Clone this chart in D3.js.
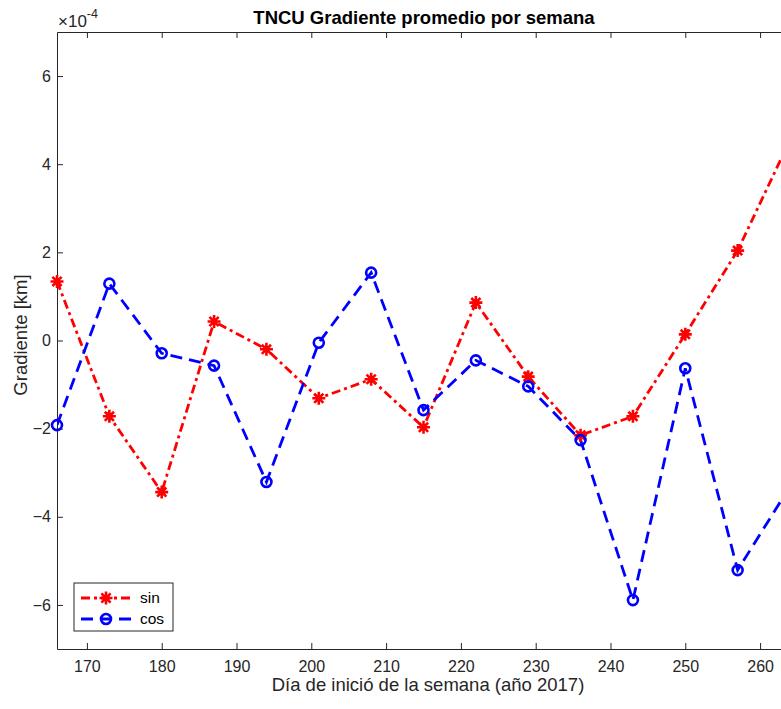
<!DOCTYPE html>
<html>
<head>
<meta charset="utf-8">
<script src="https://cdn.jsdelivr.net/npm/d3@7"></script>
<style>
  html, body { margin: 0; padding: 0; background: #fff; }
  svg { display: block; font-family: "Liberation Sans", Arial, Helvetica, sans-serif; }
</style>
</head>
<body>
<svg id="chart" width="781" height="709"></svg>
<script>
// Weekly start day (2017) and the mean gradient per week, in units of 1e-4 km
const days = [166, 173, 180, 187, 194, 201, 208, 215, 222, 229, 236, 243, 250, 257, 264];
const sinValues = [1.34, -1.72, -3.44, 0.43, -0.20, -1.31, -0.88, -1.97, 0.86, -0.82, -2.15, -1.72, 0.14, 2.04, 4.55];
const cosValues = [-1.92, 1.29, -0.29, -0.57, -3.21, -0.05, 1.54, -1.58, -0.45, -1.04, -2.26, -5.89, -0.63, -5.21, -3.31];
const xTicks = [170, 180, 190, 200, 210, 220, 230, 240, 250, 260];
const yTicks = [-6, -4, -2, 0, 2, 4, 6];

const svg = d3.select("#chart");
const axisColor = "#262626";

// Axes box (extends slightly beyond the window on the right)
const boxLeft = 57, boxTop = 32, boxRight = 790, boxBottom = 649;

const x = d3.scaleLinear().domain([166, 264]).range([boxLeft, boxRight]);
const y = d3.scaleLinear().domain([-7, 7]).range([boxBottom, boxTop]);

svg.append("defs").append("clipPath").attr("id", "plotClip")
  .append("rect").attr("x", boxLeft).attr("y", boxTop)
  .attr("width", boxRight - boxLeft).attr("height", boxBottom - boxTop);

// Axes
function styleAxis(g) {
  g.selectAll("path.domain").attr("stroke", axisColor).attr("stroke-width", 1);
  g.selectAll(".tick line").attr("stroke", axisColor).attr("stroke-width", 1);
  g.selectAll(".tick text").attr("fill", axisColor)
    .attr("font-family", "Liberation Sans, Arial, sans-serif");
}

svg.append("g").attr("transform", `translate(0,${boxBottom})`)
  .call(d3.axisBottom(x).tickValues(xTicks).tickSizeInner(-6).tickSizeOuter(0).tickPadding(12))
  .call(styleAxis)
  .selectAll(".tick text").attr("font-size", 16);

svg.append("g").attr("transform", `translate(0,${boxTop})`)
  .call(d3.axisTop(x).tickValues(xTicks).tickSizeInner(-6).tickSizeOuter(0).tickFormat(""))
  .call(styleAxis);

svg.append("g").attr("transform", `translate(${boxLeft},0)`)
  .call(d3.axisLeft(y).tickValues(yTicks).tickSizeInner(-6).tickSizeOuter(0).tickPadding(6))
  .call(styleAxis)
  .selectAll(".tick text").attr("font-size", 16);

// Exponent marker
const expo = svg.append("text").attr("x", 58).attr("y", 27)
  .attr("font-size", 17).attr("fill", axisColor);
expo.append("tspan").text("\u00d710");
expo.append("tspan").attr("dy", -9).attr("font-size", 12.5).text("-4");

// Title and axis labels
svg.append("text").attr("x", 424).attr("y", 24)
  .attr("text-anchor", "middle").attr("font-size", 18.5).attr("font-weight", "bold")
  .attr("fill", "#000").text("TNCU Gradiente promedio por semana");

svg.append("text").attr("x", 428).attr("y", 691)
  .attr("text-anchor", "middle").attr("font-size", 18.5).attr("fill", axisColor)
  .text("Día de inició de la semana (año 2017)");

svg.append("text").attr("transform", "translate(27,335) rotate(-90)")
  .attr("text-anchor", "middle").attr("font-size", 18.5).attr("fill", axisColor)
  .text("Gradiente [km]");

// Series
const series = [
  { name: "sin", values: sinValues, color: "#ff0000", dash: "9,4,3,4", marker: "star" },
  { name: "cos", values: cosValues, color: "#0000ff", dash: "12,7", marker: "circle" }
];

const starPath = r => {
  const d = r * Math.SQRT1_2;
  return `M0,${-r}V${r}M${-r},0H${r}M${-d},${-d}L${d},${d}M${-d},${d}L${d},${-d}`;
};

function drawMarker(g, type, color) {
  if (type === "star") {
    g.append("path").attr("d", starPath(6.5)).attr("stroke", color)
      .attr("stroke-width", 2.6).attr("fill", "none");
  } else {
    g.append("circle").attr("r", 5).attr("stroke", color)
      .attr("stroke-width", 2.6).attr("fill", "none");
  }
}

const lines = svg.append("g").attr("clip-path", "url(#plotClip)");
const markers = svg.append("g");

series.forEach(s => {
  const pts = days.map((d, i) => [d, s.values[i]]);
  const line = d3.line().x(p => x(p[0])).y(p => y(p[1]));
  lines.append("path").datum(pts).attr("d", line)
    .attr("fill", "none").attr("stroke", s.color).attr("stroke-width", 2.8)
    .attr("stroke-dasharray", s.dash);
  pts.forEach(p => {
    const g = markers.append("g").attr("transform", `translate(${x(p[0])},${y(p[1])})`);
    drawMarker(g, s.marker, s.color);
  });
});

// Legend
const lg = svg.append("g").attr("transform", "translate(74,583)");
lg.append("rect").attr("width", 99).attr("height", 48)
  .attr("fill", "#fff").attr("stroke", axisColor).attr("stroke-width", 1);
series.forEach((s, i) => {
  const cy = 15 + i * 21;
  lg.append("line").attr("x1", 7).attr("x2", 58).attr("y1", cy).attr("y2", cy)
    .attr("stroke", s.color).attr("stroke-width", 2.8).attr("stroke-dasharray", s.dash);
  const m = lg.append("g").attr("transform", `translate(32,${cy})`);
  drawMarker(m, s.marker, s.color);
  lg.append("text").attr("x", 66).attr("y", cy + 5).attr("font-size", 15.5)
    .attr("fill", "#000").text(s.name);
});
</script>
</body>
</html>
